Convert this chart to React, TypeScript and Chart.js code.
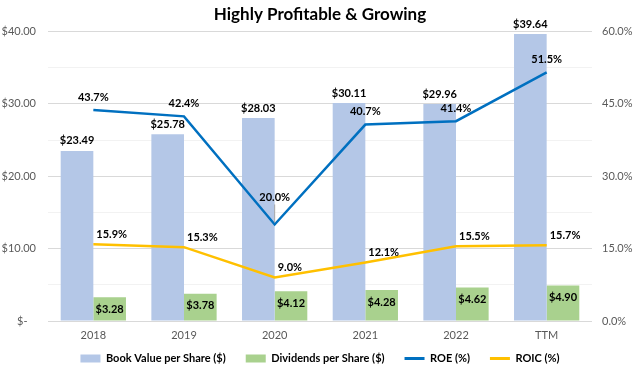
import React, { useEffect, useRef } from 'react';
import { Chart, registerables } from 'chart.js';

Chart.register(...registerables);

const categories = ['2018', '2019', '2020', '2021', '2022', 'TTM'];
const bookValue = [23.49, 25.78, 28.03, 30.11, 29.96, 39.64];
const dividends = [3.28, 3.78, 4.12, 4.28, 4.62, 4.9];
const roe = [43.7, 42.4, 20.0, 40.7, 41.4, 51.5];
const roic = [15.9, 15.3, 9.0, 12.1, 15.5, 15.7];
const seriesNames = ['Book Value per Share ($)', 'Dividends per Share ($)', 'ROE (%)', 'ROIC (%)'];

const FONT = 'Lato, "Open Sans", sans-serif';
const BLUE_BAR = '#B4C7E7';
const GREEN_BAR = '#A9D18E';
const ROE_COLOR = '#0070C0';
const ROIC_COLOR = '#FFC000';

const labelPlugin = {
  id: 'valueLabels',
  afterDatasetsDraw(chart: any) {
    const ctx = chart.ctx;
    ctx.save();
    ctx.font = `bold 11px ${FONT}`;
    ctx.fillStyle = '#000000';
    ctx.textBaseline = 'middle';

    ctx.textAlign = 'center';
    chart.getDatasetMeta(0).data.forEach((el: any, i: number) => {
      ctx.fillText('$' + bookValue[i].toFixed(2), el.x, el.y - 10);
    });
    chart.getDatasetMeta(1).data.forEach((el: any, i: number) => {
      ctx.fillText('$' + dividends[i].toFixed(2), el.x, el.y + 12);
    });
    chart.getDatasetMeta(2).data.forEach((el: any, i: number) => {
      const prev = i > 0 ? roe[i - 1] : Infinity;
      const next = i < roe.length - 1 ? roe[i + 1] : Infinity;
      const dip = roe[i] < prev && roe[i] < next;
      const off = dip ? 27 : 13;
      if (dip) {
        ctx.save();
        ctx.strokeStyle = '#A6A6A6';
        ctx.lineWidth = 1;
        ctx.beginPath();
        ctx.moveTo(el.x, el.y - off + 7);
        ctx.lineTo(el.x, el.y - 2);
        ctx.stroke();
        ctx.restore();
      }
      ctx.fillText(roe[i].toFixed(1) + '%', el.x, el.y - off);
    });
    ctx.textAlign = 'left';
    chart.getDatasetMeta(3).data.forEach((el: any, i: number) => {
      ctx.fillText(roic[i].toFixed(1) + '%', el.x + 3, el.y - 10);
    });
    ctx.restore();
  },
};

// pull the legend row up closer to the category labels (box keeps its bottom)
const legendShift = {
  id: 'legendShift',
  afterLayout(chart: any) {
    const lg = chart.legend;
    if (lg) {
      lg.top -= 12;
    }
  },
};

export default function App() {
  const canvasRef = useRef<HTMLCanvasElement | null>(null);

  useEffect(() => {
    const canvas = canvasRef.current;
    if (!canvas) return;
    const chart = new Chart(canvas, {
      type: 'bar',
      data: {
        labels: categories,
        datasets: [
          {
            type: 'bar',
            label: seriesNames[0],
            data: bookValue,
            backgroundColor: BLUE_BAR,
            yAxisID: 'y',
            order: 2,
            barPercentage: 1,
            categoryPercentage: 0.72,
          },
          {
            type: 'bar',
            label: seriesNames[1],
            data: dividends,
            backgroundColor: GREEN_BAR,
            yAxisID: 'y',
            order: 2,
            barPercentage: 1,
            categoryPercentage: 0.72,
          },
          {
            type: 'line',
            label: seriesNames[2],
            data: roe,
            borderColor: ROE_COLOR,
            backgroundColor: ROE_COLOR,
            borderWidth: 2.5,
            pointRadius: 0,
            tension: 0,
            yAxisID: 'y1',
            order: 1,
          },
          {
            type: 'line',
            label: seriesNames[3],
            data: roic,
            borderColor: ROIC_COLOR,
            backgroundColor: ROIC_COLOR,
            borderWidth: 2.5,
            pointRadius: 0,
            tension: 0,
            yAxisID: 'y1',
            order: 1,
          },
        ],
      } as any,
      options: {
        responsive: false,
        animation: false,
        layout: { padding: { left: 0, right: 0, top: 0, bottom: 0 } },
        plugins: {
          tooltip: { enabled: false },
          title: {
            display: true,
            text: 'Highly Profitable & Growing',
            color: '#000000',
            font: { family: FONT, size: 17, weight: 'bold' },
            padding: { top: 4, bottom: 7 },
          },
          legend: {
            position: 'bottom',
            maxHeight: 26,
            labels: {
              usePointStyle: true,
              pointStyleWidth: 20,
              boxHeight: 8,
              padding: 20,
              color: '#000000',
              font: { family: FONT, size: 11, weight: 'bold' },
              sort: (a: any, b: any) => a.datasetIndex - b.datasetIndex,
              generateLabels: (chart: any) => {
                const items = Chart.defaults.plugins.legend.labels.generateLabels(chart);
                items.forEach((it: any) => {
                  const ds = chart.data.datasets[it.datasetIndex];
                  if (ds.type === 'line') {
                    it.pointStyle = 'line';
                    it.strokeStyle = ds.borderColor;
                    it.lineWidth = 3;
                  } else {
                    it.pointStyle = 'rect';
                    it.fillStyle = ds.backgroundColor;
                    it.strokeStyle = ds.backgroundColor;
                    it.lineWidth = 0;
                  }
                });
                return items;
              },
            },
          },
        },
        scales: {
          x: {
            grid: { display: false, drawTicks: false },
            border: { display: false },
            ticks: {
              color: '#595959',
              font: { family: FONT, size: 11 },
              padding: 8,
            },
            afterFit: (s: any) => {
              s.height = 24;
            },
          },
          y: {
            position: 'left',
            min: 0,
            max: 40,
            border: { display: false },
            grid: {
              drawTicks: false,
              color: (c: any) => (c.tick && c.tick.value % 10 === 0 ? '#D9D9D9' : '#F2F2F2'),
              lineWidth: 1,
            },
            ticks: {
              stepSize: 5,
              padding: 12,
              color: '#595959',
              font: { family: FONT, size: 11 },
              callback: (v: any) => {
                const n = Number(v);
                if (n % 10 !== 0) return '';
                return n === 0 ? '$-   ' : '$' + n.toFixed(2);
              },
            },
            afterFit: (s: any) => {
              s.width = 48;
            },
          },
          y1: {
            position: 'right',
            min: 0,
            max: 60,
            border: { display: false },
            grid: { display: false, drawTicks: false },
            ticks: {
              stepSize: 7.5,
              padding: 10,
              color: '#595959',
              font: { family: FONT, size: 11 },
              callback: (v: any) => {
                const n = Number(v);
                if (n % 15 !== 0) return '';
                return n.toFixed(1) + '%';
              },
            },
            afterFit: (s: any) => {
              s.width = 48;
            },
          },
        },
      } as any,
      plugins: [labelPlugin, legendShift],
    });
    return () => chart.destroy();
  }, []);

  return (
    <div style={{ position: 'absolute', left: 0, top: 0, width: 640, height: 371, background: '#ffffff' }}>
      <canvas ref={canvasRef} width={640} height={371} />
    </div>
  );
}
